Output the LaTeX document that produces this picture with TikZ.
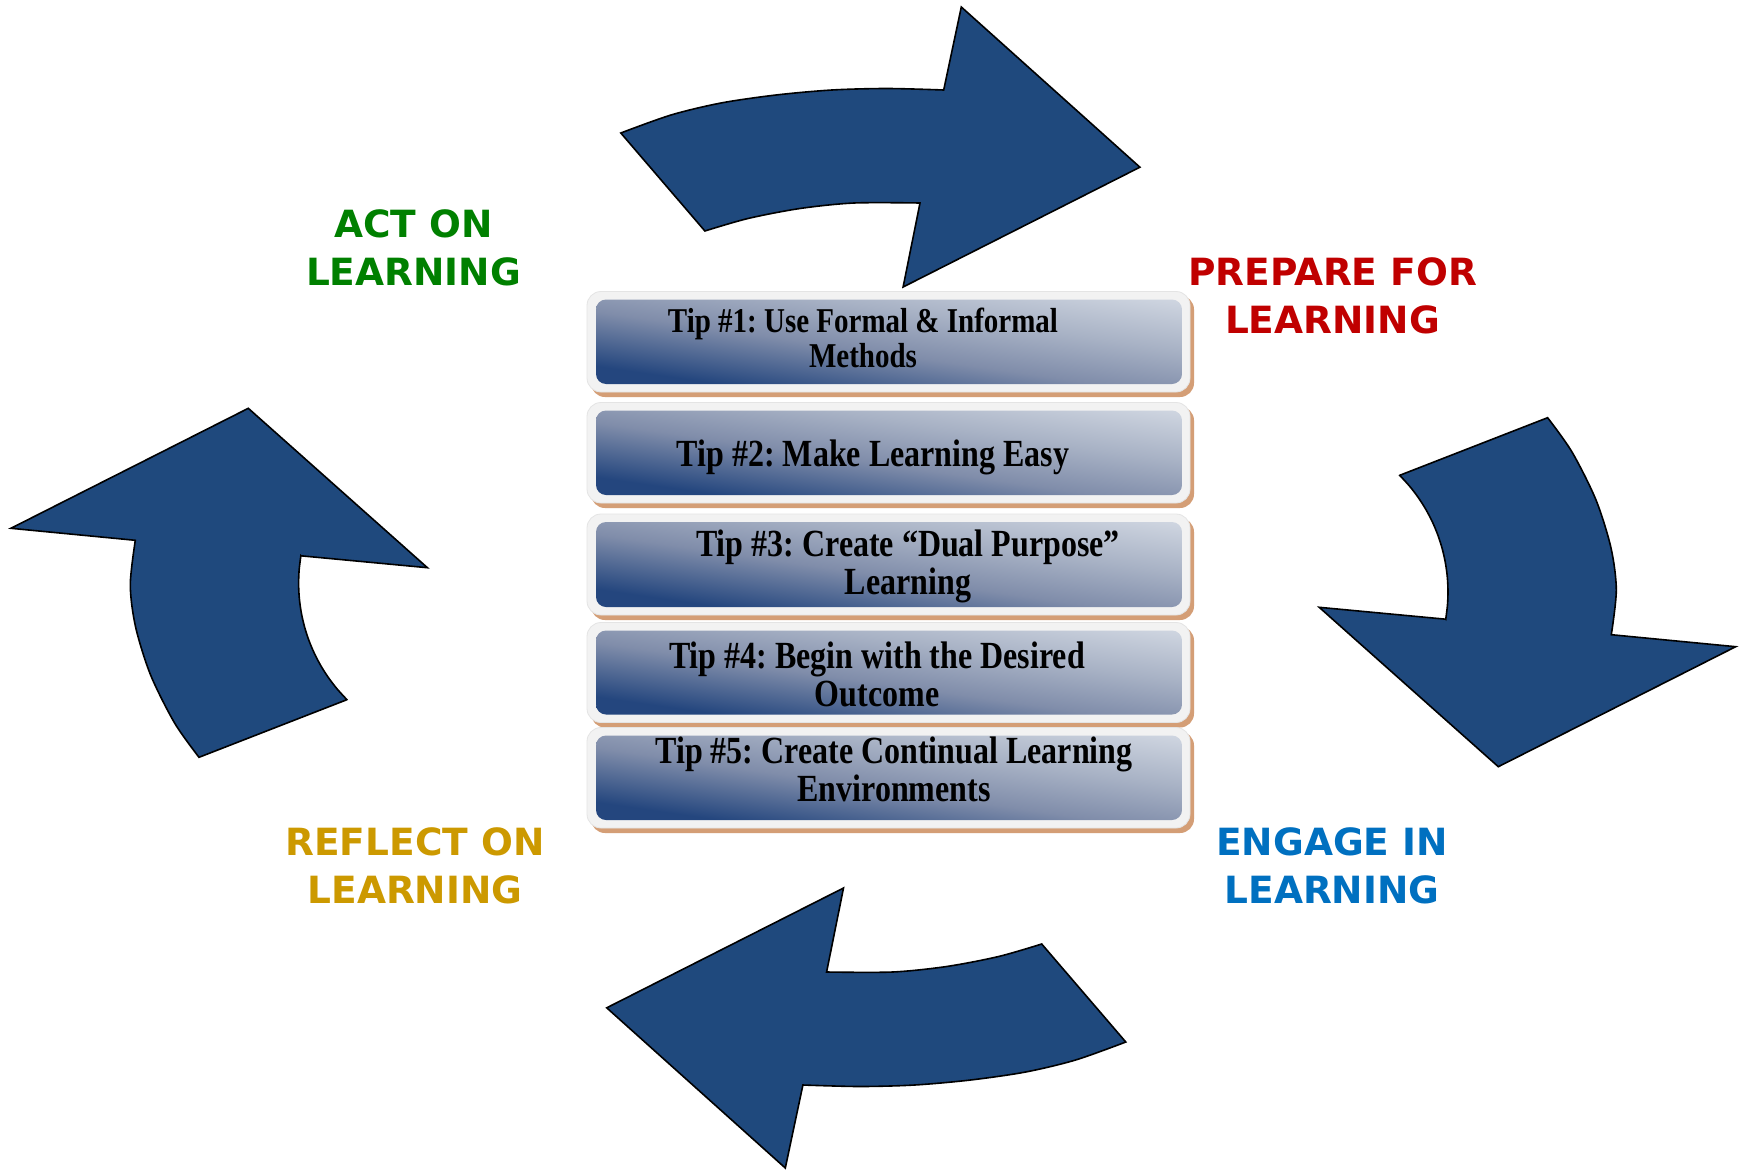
\documentclass[tikz,border=0pt]{standalone}
\usepackage{fontspec}
\usepackage{graphicx}
\newfontfamily\tipfont{Liberation Serif}
\newfontfamily\stagefont{DejaVu Sans}

\definecolor{arrowblue}{RGB}{31,73,125}
\definecolor{tipdark}{RGB}{36,70,126}
\definecolor{tipmid}{RGB}{128,141,170}
\definecolor{tipsoft}{RGB}{168,178,197}
\definecolor{tiplight}{RGB}{212,218,228}
\definecolor{frameface}{RGB}{242,242,242}
\definecolor{frameline}{RGB}{228,228,228}
\definecolor{frameedge}{RGB}{212,158,118}
\definecolor{actgreen}{RGB}{0,128,0}
\definecolor{prepred}{RGB}{192,0,0}
\definecolor{engblue}{RGB}{0,112,192}
\definecolor{reflgold}{RGB}{204,153,0}

% dark corner fading quickly into grey-blue, then to a pale top corner
\pgfdeclareverticalshading{tipgrad}{100bp}{%
  color(0bp)=(tipdark); color(22bp)=(tipdark); color(45bp)=(tipmid);
  color(64bp)=(tipsoft); color(88bp)=(tiplight); color(100bp)=(tiplight)}

% slightly tall, centred block of lines for the tip captions
\newcommand\tipstack[1]{\scalebox{1}[1.2]{\begin{tabular}{@{}c@{}}#1\end{tabular}}}

\tikzset{
  cyclearrow/.style={fill=arrowblue, draw=black, line width=1.6pt, line join=miter, miter limit=6},
  stagelabel/.style={font=\stagefont\bfseries\fontsize{37.5}{48}\selectfont, align=center, inner sep=0pt},
  tiptext/.style={font=\tipfont\bfseries\fontsize{32}{31.7}\selectfont, inner sep=0pt, text=black},
  tipsmall/.style={font=\tipfont\bfseries\fontsize{29}{28.7}\selectfont, inner sep=0pt, text=black},
  tipshadow/.style={fill=frameedge, rounded corners=14pt},
  tipframe/.style={fill=frameface, draw=frameline, line width=0.8pt, rounded corners=14pt},
  tipface/.style={shading=tipgrad, shading angle=-45},
}

% one tip panel: #1 = top edge, #2 = bottom edge of the shaded face
\newcommand\tippanel[2]{%
  \fill[tipshadow] (591,{#1-4}) rectangle (1194,{#2+13});
  \filldraw[tipframe] (587,{#1-8}) rectangle (1190,{#2+8});
  \begin{scope}
    \clip[rounded corners=10pt] (596,#1) rectangle (1182,#2);
    % a diagonal shading on a unit square, stretched onto the face
    \begin{scope}[transform canvas={shift={(596,#1)}, xscale=5.86, yscale={(#2-#1)/100}}]
      \shade[tipface] (0,0) rectangle (100,100);
    \end{scope}
  \end{scope}
}

% the two arrow outlines; the other two are their half-turns
\newcommand\cycletoparrow{%
  (620.8,133) -- (704.9,231)
  -- plot[smooth] coordinates {(704.9,231) (748,218.5) (800,208.5) (854,203) (920,203)}
  -- (903.1,287) -- (1139.9,167.2) -- (961.3,7) -- (943.7,90)
  -- plot[smooth] coordinates {(943.7,90) (887,88.5) (832,90) (776,95) (721,103) (671,115) (620.8,133)}
  -- cycle}
\newcommand\cyclerightarrow{%
  (1399.7,475.3) -- (1547.6,417.7)
  -- plot[smooth] coordinates {(1547.6,417.7) (1572,452) (1596,500) (1611,548) (1616.3,590) (1611.3,634.7)}
  -- (1735.7,646.7) -- (1498.3,766.7) -- (1319.2,607.3) -- (1445.7,619.2)
  -- plot[smooth, domain=9.5:-45, samples=12] ({1283+165*cos(\x)},{592+165*sin(\x)})
  -- cycle}

\begin{document}
\frenchspacing
\begin{tikzpicture}[x=1pt, y=-1pt]
  \useasboundingbox (0,0) rectangle (1740,1172);
  \fill[white] (0,0) rectangle (1740,1172);

  % ---- the four curved cycle arrows ----
  \filldraw[cyclearrow] \cycletoparrow;
  \filldraw[cyclearrow] \cyclerightarrow;
  \begin{scope}[rotate around={180:(873.3,587.5)}]
    \filldraw[cyclearrow] \cycletoparrow;
    \filldraw[cyclearrow] \cyclerightarrow;
  \end{scope}

  % ---- stage labels ----
  \node[stagelabel, text=actgreen] (act) at (413.5,248) {ACT ON\\LEARNING};
  \node[stagelabel, text=prepred] (prepare) at (1332.5,296) {PREPARE FOR\\LEARNING};
  \node[stagelabel, text=engblue] (engage) at (1332,866) {ENGAGE IN\\LEARNING};
  \node[stagelabel, text=reflgold] (reflect) at (415,866) {REFLECT ON\\LEARNING};

  % ---- the stack of tips ----
  \tippanel{299.5}{384}
  \tippanel{410.5}{495}
  \tippanel{522}{607}
  \tippanel{630.5}{714.5}
  \tippanel{735.5}{820}

  \node[tipsmall] (tip1) at (863,343) {\tipstack{Tip \#1: Use Formal \& Informal\\Methods}};
  \node[tiptext] (tip2) at (873,459) {\tipstack{Tip \#2: Make Learning Easy}};
  \node[tiptext] (tip3) at (908,568) {\tipstack{Tip \#3: Create “Dual Purpose”\\Learning}};
  \node[tiptext] (tip4) at (877,680) {\tipstack{Tip \#4: Begin with the Desired\\Outcome}};
  \node[tiptext] (tip5) at (894,775) {\tipstack{Tip \#5: Create Continual Learning\\Environments}};
\end{tikzpicture}
\end{document}
